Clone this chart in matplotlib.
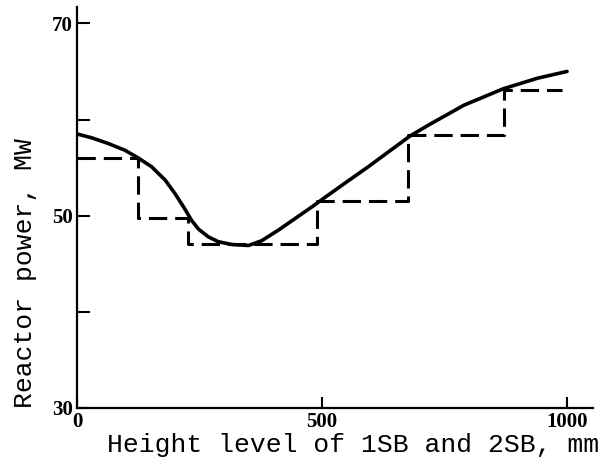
import matplotlib.pyplot as plt

# data
# smooth curve: reactor power vs rod height
height = [0, 30, 64, 98, 125, 152, 180, 200, 220, 234, 248, 268, 288, 316,
          350, 377, 411, 445, 479, 506, 550, 592, 640, 680, 720, 790, 870,
          940, 1000]
power = [58.5, 58.1, 57.5, 56.8, 56.0, 55.1, 53.7, 52.3, 50.7, 49.5, 48.6,
         47.8, 47.3, 47.0, 46.9, 47.4, 48.5, 49.7, 50.9, 51.9, 53.5, 55.0,
         56.8, 58.3, 59.5, 61.5, 63.2, 64.3, 65.0]

# dashed stepwise curve
step_edges = [0, 124, 227, 490, 676, 871, 990]
step_levels = [56.0, 49.8, 47.1, 51.5, 58.4, 63.1]

yticks = [30, 40, 50, 60, 70]
ytick_labels = ['30', '', '50', '', '70']
xticks = [0, 500, 1000]
xtick_labels = ['0', '500', '1000']

fig = plt.figure(figsize=(6.03, 4.62), dpi=100)
ax = fig.add_axes([0.1277, 0.1169, 0.8557, 0.8679])

ax.plot(height, power, color='black', lw=2.6, solid_capstyle='round',
        solid_joinstyle='round')
ax.step(step_edges, step_levels + [step_levels[-1]], where='post',
        color='black', lw=2.2, dashes=(6, 2.6))

ax.set_xlim(0, 1053)
ax.set_ylim(30, 71.7)

for s in ['top', 'right']:
    ax.spines[s].set_visible(False)
for s in ['left', 'bottom']:
    ax.spines[s].set_linewidth(1.6)

ax.set_yticks(yticks)
ax.set_yticklabels(ytick_labels, family='Liberation Serif', fontsize=15, fontweight='bold')
ax.set_xticks(xticks)
ax.set_xticklabels(xtick_labels, family='Liberation Serif', fontsize=15, fontweight='bold')
ax.tick_params(axis='y', direction='in', length=9, width=1.5, pad=3)
ax.tick_params(axis='x', direction='in', length=8, width=1.5, pad=3)

fig.text(0.585, 0.037, 'Height level of 1SB and 2SB, mm', family='Liberation Mono',
         fontsize=19, ha='center', va='center')
fig.text(0.041, 0.41, 'Reactor power, MW', family='Liberation Mono',
         fontsize=19, ha='center', va='center', rotation=90)

fig.savefig('out.png', dpi=100)
